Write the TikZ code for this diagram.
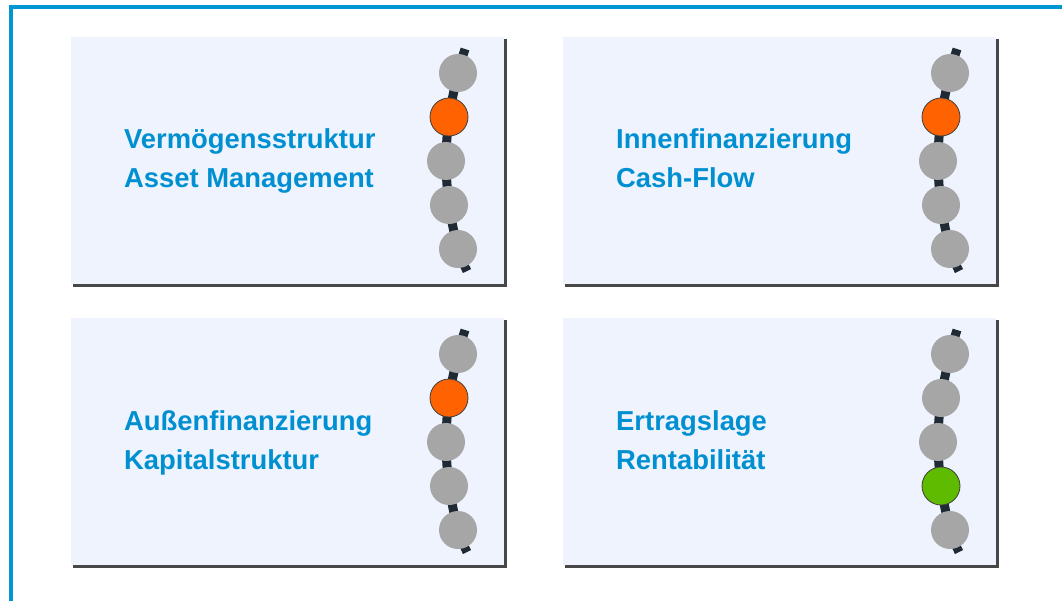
\documentclass[tikz,border=0pt]{standalone}
\usepackage{fontspec}
\setmainfont{Liberation Sans}
\usepackage{xcolor}
\usetikzlibrary{positioning,calc}

\definecolor{frameblue}{RGB}{0,150,214}
\definecolor{paneltint}{RGB}{238,243,253}
\definecolor{labelblue}{RGB}{0,144,210}
\definecolor{beadgrey}{RGB}{166,166,166}
\definecolor{signalred}{RGB}{255,98,0}
\definecolor{signalgreen}{RGB}{94,187,0}
\definecolor{corddark}{RGB}{32,42,52}

\begin{document}
\begin{tikzpicture}[x=1pt,y=-1pt,
  panelshadow/.style={fill=black!72},
  panel/.style={fill=paneltint},
  cord/.style={line width=9pt,corddark},
  bead/.style={circle,minimum size=38pt,inner sep=0pt,fill=beadgrey},
  litbead/.style={bead,draw=black!75,line width=0.8pt},
  paneltext/.style={anchor=base west,inner sep=0pt,text=labelblue,
    font=\fontsize{27.4}{39}\selectfont\bfseries}]
\useasboundingbox (0,0) rectangle (1062,601);
% outer frame, runs off the right and bottom edge
\draw[frameblue,line width=4pt] (1062,7.5) -- (11,7.5) -- (11,601);

% the four panels
\foreach \n/\px/\py/\lit/\litcol/\ta/\tb in {
  1/71/37/2/signalred/Vermögensstruktur/Asset Management,
  2/563/37/2/signalred/Innenfinanzierung/Cash-Flow,
  3/71/318/2/signalred/Außenfinanzierung/Kapitalstruktur,
  4/563/318/4/signalgreen/Ertragslage/Rentabilität}{
\begin{scope}[shift={(\px,\py)}]
  \fill[panelshadow] (2,2) rectangle (436,250);
  \fill[panel] (0,0) rectangle (433,247);
  \coordinate (p\n-0) at (394,12);
  \coordinate (p\n-1) at (387,36);
  \coordinate (p\n-2) at (378,80);
  \coordinate (p\n-3) at (375,124);
  \coordinate (p\n-4) at (378,168);
  \coordinate (p\n-5) at (387,212);
  \coordinate (p\n-6) at (396,234);
  \draw[cord] plot[smooth] coordinates {(p\n-0) (p\n-1) (p\n-2) (p\n-3) (p\n-4) (p\n-5) (p\n-6)};
  \foreach \k in {1,...,5}
    \node[bead] (b\n-\k) at (p\n-\k) {};
  \node[litbead,fill=\litcol] (lit\n) at (p\n-\lit) {};
  \node[paneltext] (t\n-a) at (53,112) {\ta};
  \node[paneltext] (t\n-b) at (53,151) {\tb};
\end{scope}}
\end{tikzpicture}
\end{document}
